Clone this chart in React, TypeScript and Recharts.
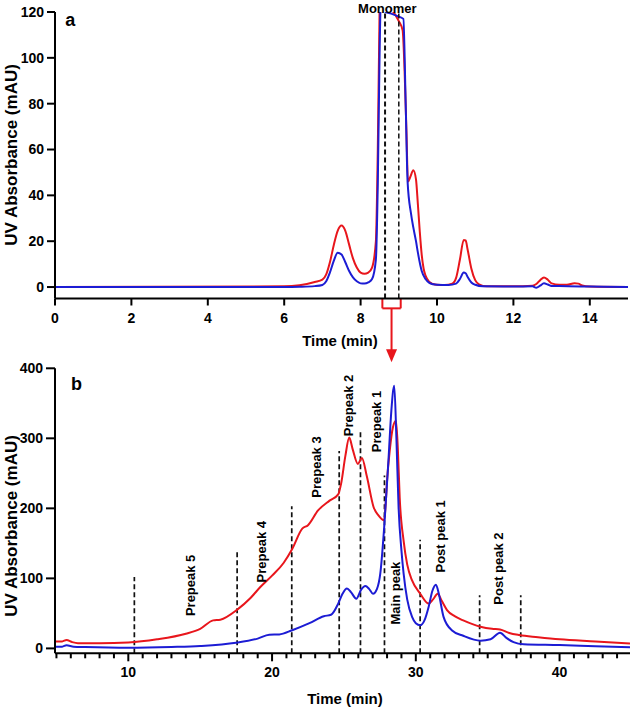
import React from "react";
import {
  LineChart,
  Line,
  XAxis,
  YAxis,
  Label,
  ReferenceLine,
  ReferenceDot,
} from "recharts";

const FONT = '"Liberation Sans", Arial, sans-serif';
const RED = "#e8161c";
const BLUE = "#1c1cd4";

// ---- panel a: full chromatogram (0-15 min) ----
const redTimeA = [0, 6.0, 6.4, 6.8, 7.0, 7.1, 7.2, 7.3, 7.4, 7.5, 7.6, 7.7, 7.8, 7.9, 8.0, 8.1, 8.2, 8.3, 8.4, 8.45, 8.5, 8.55, 8.6, 8.7, 8.8, 8.9, 9.0, 9.1, 9.15, 9.2, 9.24, 9.3, 9.38, 9.45, 9.5, 9.55, 9.6, 9.65, 9.7, 9.8, 9.9, 10.0, 10.2, 10.4, 10.5, 10.6, 10.7, 10.75, 10.8, 10.9, 11.0, 11.1, 11.3, 12.0, 12.5, 12.6, 12.7, 12.8, 12.9, 13.0, 13.2, 13.4, 13.6, 13.7, 13.8, 14.0, 15.0];
const redA = [0, 0.3, 0.8, 2.2, 3.2, 5.5, 11, 18.5, 24.5, 26.8, 24.5, 18.5, 12.5, 8.5, 6.3, 5.8, 6.3, 8.5, 20, 60, 125, 170, 200, 190, 122, 119, 116, 112, 95, 68, 46, 48, 51, 47, 36, 24, 14, 8, 5, 2.2, 1.3, 1, 0.9, 1.5, 4, 12, 20.5, 20.3, 16.5, 8, 3, 1.2, 0.3, 0.3, 0.6, 1.3, 3, 4.2, 3.2, 1.6, 1, 1, 1.7, 1.5, 0.7, 0.2, 0];

const blueTimeA = [0, 6.0, 6.4, 6.8, 7.0, 7.1, 7.2, 7.3, 7.4, 7.5, 7.6, 7.7, 7.8, 7.9, 8.0, 8.1, 8.2, 8.3, 8.4, 8.45, 8.5, 8.55, 8.6, 8.65, 8.8, 9.0, 9.12, 9.18, 9.23, 9.32, 9.38, 9.45, 9.5, 9.6, 9.7, 9.8, 9.9, 10.0, 10.3, 10.5, 10.6, 10.7, 10.75, 10.8, 10.9, 11.0, 11.2, 12.0, 12.5, 12.6, 12.7, 12.8, 12.9, 13.0, 13.2, 14.0, 15.0];
const blueA = [0, 0, 0.1, 0.4, 0.9, 2.5, 6.5, 11.5, 15, 14.2, 10.8, 7, 4.2, 2.5, 1.6, 1.5, 2, 3.5, 12, 45, 105, 135, 135, 120, 119.3, 118, 117, 80, 46, 32, 26, 20, 15, 7, 3.5, 1.8, 1.2, 1, 0.9, 1.5, 3.5, 6.3, 6, 4.5, 2, 1, 0.3, 0.2, 0.3, -0.3, 0.6, 1.6, 1.1, 0.5, 0.4, 0.2, 0];

const ticksA = [0, 2, 4, 6, 8, 10, 12, 14];
const yTicksA = [0, 20, 40, 60, 80, 100, 120];
const monomerCuts = [8.64, 9.0];

// ---- panel b: fractionated monomer region (5-45 min) ----
const redTimeB = [4.9, 5.4, 5.7, 6.1, 6.5, 8, 10, 12, 14, 15, 15.9, 16.4, 17.6, 18.5, 19.2, 20, 20.8, 21.4, 22.1, 22.5, 23.2, 24.0, 24.6, 24.8, 25.1, 25.37, 25.6, 25.97, 26.25, 26.6, 27.06, 27.4, 27.8, 27.9, 28.0, 28.2, 28.4, 28.62, 28.75, 28.88, 29.15, 29.4, 29.74, 30.31, 30.9, 31.2, 31.52, 31.8, 32.17, 32.7, 33.3, 34.5, 35.3, 35.86, 36.5, 37.2, 38.5, 40, 42.5, 44.9];
const redB = [10, 10, 12, 9, 7.5, 7.5, 8.5, 13, 21, 28, 40, 41, 55.7, 72, 88, 104, 122, 142, 171, 176, 197, 211, 220, 235, 275, 301, 285, 263.5, 272, 245, 202, 190, 183, 205, 240, 285, 315, 325, 285, 215, 154, 120, 97, 78, 64, 70, 78, 68, 54.7, 46, 40, 31, 28, 27, 22, 19, 16, 13, 10, 7];

const blueTimeB = [4.9, 5.4, 5.7, 6.2, 7, 10, 13, 15, 17.5, 19, 19.8, 20.5, 21.4, 22.6, 23.6, 24.1, 24.6, 24.9, 25.21, 25.5, 25.86, 26.2, 26.49, 26.75, 27.02, 27.3, 27.53, 27.8, 28.1, 28.3, 28.5, 28.65, 28.8, 29.0, 29.15, 29.4, 29.74, 30.0, 30.31, 30.6, 30.9, 31.15, 31.4, 31.6, 31.93, 32.5, 33.3, 34.5, 35.2, 35.86, 36.3, 36.8, 37.5, 40, 42.5, 44.9];
const blueB = [2.5, 2.5, 4.5, 2.5, 2, 1, 2, 3.4, 8, 14, 19.5, 20, 26, 36, 46, 48, 64, 78, 85.6, 80, 71, 84, 89, 85, 78, 85, 107, 173, 270, 340, 375, 300, 202, 140, 107, 70, 45, 36, 33, 40, 60, 82, 91, 78, 45, 26, 18, 11, 13, 22.4, 15, 9, 6, 4.8, 3, 1.5];

const ticksB = Array.from({ length: 40 }, (_, i) => i + 5);
const yTicksB = [0, 100, 200, 300, 400];

// fraction cut positions and how tall the dashed markers are drawn
const cutTimes = [10.42, 17.57, 21.37, 24.67, 26.15, 27.82, 30.3, 34.44, 37.3];
const cutHeights = [102, 139, 203, 282, 309, 247, 155, 76, 76];

const peakNames = ["Prepeak 5", "Prepeak 4", "Prepeak 3", "Prepeak 2", "Prepeak 1", "Main peak", "Post peak 1", "Post peak 2"];
const peakNameX = [14.35, 19.25, 23.1, 25.3, 27.3, 28.6, 31.7, 35.75];
const peakNameY = [90, 138, 259, 347, 324, 79, 160, 114];

const zip = (t: number[], v: number[]) => t.map((x, i) => ({ t: x, v: v[i] }));

const axisLine = { stroke: "#000", strokeWidth: 2 };
const tickFont = { fill: "#000", fontSize: 14, fontWeight: 700, fontFamily: FONT };

const yTitle = (cy: number) => () => (
  <text
    x={11}
    y={cy}
    transform={`rotate(-90 11 ${cy})`}
    textAnchor="middle"
    dominantBaseline="central"
    fontFamily={FONT}
    fontWeight={700}
    fontSize={17}
    fill="#000"
  >
    UV Absorbance (mAU)
  </text>
);

const xTitle = (cx: number, baseline: number) => () => (
  <text x={cx} y={baseline} textAnchor="middle" fontFamily={FONT} fontWeight={700} fontSize={15} fill="#000">
    Time (min)
  </text>
);

const tag = (s: string) => (p: any) => (
  <text x={p.cx} y={p.cy} textAnchor="middle" dominantBaseline="central" fontFamily={FONT} fontWeight={700} fontSize={18} fill="#000">
    {s}
  </text>
);

const BottomTick = (props: any) => {
  const { x, y, payload } = props;
  const major = payload.value % 10 === 0;
  return (
    <g>
      <line x1={x} x2={x} y1={y} y2={y + (major ? 8 : 5)} stroke="#000" strokeWidth={2} />
      {major && (
        <text x={x} y={y + 24} textAnchor="middle" fontFamily={FONT} fontWeight={700} fontSize={14} fill="#000">
          {payload.value}
        </text>
      )}
    </g>
  );
};

const Arrow = (p: any) => (
  <g>
    <line x1={p.x1} y1={p.y1} x2={p.x2} y2={p.y2 - 11} stroke={RED} strokeWidth={2} />
    <polygon points={`${p.x2 - 5.5},${p.y2 - 13} ${p.x2 + 5.5},${p.y2 - 13} ${p.x2},${p.y2}`} fill={RED} />
  </g>
);

export default function App() {
  return (
    <div style={{ position: "absolute", left: 0, top: 0, width: 630, height: 707, background: "#fff" }}>
      <div style={{ position: "absolute", left: 0, top: 350 }}>
        <LineChart width={630} height={357} margin={{ top: 18.3, right: 0, bottom: 0, left: 0 }}>
          <XAxis
            dataKey="t"
            type="number"
            domain={[4.9, 44.9]}
            ticks={ticksB}
            interval={0}
            allowDataOverflow
            height={53.7}
            axisLine={axisLine}
            tickLine={false}
            tickSize={0}
            tickMargin={0}
            tick={<BottomTick />}
          >
            <Label content={xTitle(345, 353.5)} />
          </XAxis>
          <YAxis
            type="number"
            domain={[-7, 400]}
            ticks={yTicksB}
            interval={0}
            allowDataOverflow
            width={55}
            axisLine={axisLine}
            tickLine={{ stroke: "#000", strokeWidth: 2 }}
            tickSize={9}
            tickMargin={3}
            tick={tickFont}
          >
            <Label content={yTitle(176)} />
          </YAxis>
          {cutTimes.map((c, i) => (
            <ReferenceLine
              key={`cut-${i}`}
              segment={[{ x: c, y: -7 }, { x: c, y: cutHeights[i] }]}
              stroke="#111"
              strokeWidth={1.7}
              strokeDasharray="5 3"
              ifOverflow="visible"
            />
          ))}
          <Line data={zip(redTimeB, redB)} dataKey="v" type="monotone" stroke={RED} strokeWidth={2} dot={false} isAnimationActive={false} />
          <Line data={zip(blueTimeB, blueB)} dataKey="v" type="monotone" stroke={BLUE} strokeWidth={2} dot={false} isAnimationActive={false} />
          {peakNames.map((n, i) => (
            <ReferenceDot
              key={`pk-${i}`}
              x={peakNameX[i]}
              y={peakNameY[i]}
              r={0}
              ifOverflow="visible"
              shape={(p: any) => (
                <text
                  x={p.cx}
                  y={p.cy}
                  transform={`rotate(-90 ${p.cx} ${p.cy})`}
                  textAnchor="middle"
                  dominantBaseline="central"
                  fontFamily={FONT}
                  fontWeight={700}
                  fontSize={13}
                  fill="#000"
                >
                  {n}
                </text>
              )}
            />
          ))}
          <ReferenceDot x={6.4} y={378} r={0} ifOverflow="visible" shape={tag("b")} />
        </LineChart>
      </div>

      <div style={{ position: "absolute", left: 0, top: 0, zIndex: 2 }}>
        <LineChart width={630} height={370} margin={{ top: 12, right: 2, bottom: 0, left: 0 }}>
          <XAxis
            dataKey="t"
            type="number"
            domain={[0, 15]}
            ticks={ticksA}
            interval={0}
            allowDataOverflow
            height={71.5}
            axisLine={axisLine}
            tickLine={{ stroke: "#000", strokeWidth: 2 }}
            tickSize={7}
            tickMargin={8}
            tick={tickFont}
          >
            <Label content={xTitle(340, 345.5)} />
          </XAxis>
          <YAxis
            type="number"
            domain={[-5, 120]}
            ticks={yTicksA}
            interval={0}
            allowDataOverflow
            width={55}
            axisLine={axisLine}
            tickLine={{ stroke: "#000", strokeWidth: 2 }}
            tickSize={8}
            tickMargin={3}
            tick={tickFont}
          >
            <Label content={yTitle(155)} />
          </YAxis>
          <Line data={zip(redTimeA, redA)} dataKey="v" type="monotone" stroke={RED} strokeWidth={2} dot={false} isAnimationActive={false} />
          <Line data={zip(blueTimeA, blueA)} dataKey="v" type="monotone" stroke={BLUE} strokeWidth={2} dot={false} isAnimationActive={false} />
          {monomerCuts.map((c, i) => (
            <ReferenceLine
              key={`mono-${i}`}
              segment={[{ x: c, y: -5 }, { x: c, y: 120 }]}
              stroke="#111"
              strokeWidth={i === 0 ? 2 : 1.5}
              strokeDasharray="5 3"
              ifOverflow="visible"
            />
          ))}
          <ReferenceDot
            x={8.7}
            y={120}
            r={0}
            ifOverflow="visible"
            shape={(p: any) => (
              <text x={p.cx} y={p.cy - 4} textAnchor="middle" dominantBaseline="central" fontFamily={FONT} fontWeight={700} fontSize={13} fill="#000">
                Monomer
              </text>
            )}
          />
          <ReferenceDot x={0.4} y={116.5} r={0} ifOverflow="visible" shape={tag("a")} />
          {/* red bracket under the monomer window, pointing down to panel b */}
          <ReferenceLine segment={[{ x: 8.57, y: -5 }, { x: 8.57, y: -9.3 }]} stroke={RED} strokeWidth={2} ifOverflow="visible" />
          <ReferenceLine segment={[{ x: 9.05, y: -5 }, { x: 9.05, y: -9.3 }]} stroke={RED} strokeWidth={2} ifOverflow="visible" />
          <ReferenceLine segment={[{ x: 8.57, y: -9.3 }, { x: 9.05, y: -9.3 }]} stroke={RED} strokeWidth={2} ifOverflow="visible" />
          <ReferenceLine segment={[{ x: 8.81, y: -9.3 }, { x: 8.81, y: -32.8 }]} ifOverflow="visible" shape={Arrow} />
        </LineChart>
      </div>
    </div>
  );
}
